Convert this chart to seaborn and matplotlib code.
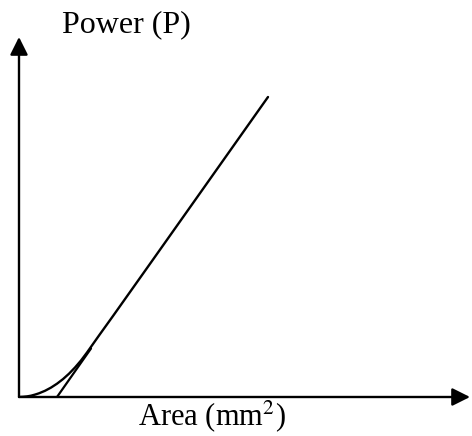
import matplotlib
matplotlib.use("Agg")
import matplotlib.pyplot as plt
import seaborn as sns
import pandas as pd

# Curve (area, power) in arbitrary units
area = [0, 4, 8, 12, 16, 20, 26, 32, 38, 44, 50, 56, 62, 68, 74, 80, 94, 133, 179, 249]
power = [0, 0.2, 0.6, 1.3, 2.4, 3.7, 6.2, 9.4, 13.3, 17.9, 23.3, 29.5, 36.5, 44.5, 53, 61.5, 81, 136, 201, 300]
# Tangent line from x-intercept to where it meets the curve
tan_area = [38, 72]
tan_power = [0, 48.5]
x_max = 451
y_max = 360
x_label = "Area (mm$^2$)"
y_label = "Power (P)"

sns.set_style("white")
plt.rcParams["font.family"] = ["Liberation Serif", "DejaVu Serif"]
plt.rcParams["mathtext.fontset"] = "stix"

W, H = 472, 436
fig = plt.figure(figsize=(W / 100, H / 100), dpi=100)
ax = fig.add_axes([19 / W, (H - 397) / H, (470 - 19) / W, (397 - 37) / H])

df = pd.DataFrame({"area": area, "power": power})
dft = pd.DataFrame({"area": tan_area, "power": tan_power})
sns.lineplot(data=df, x="area", y="power", ax=ax, color="black", lw=1.7, sort=False)
sns.lineplot(data=dft, x="area", y="power", ax=ax, color="black", lw=1.6, sort=False)

ax.set_xlim(0, x_max)
ax.set_ylim(0, y_max)
ax.set_xticks([])
ax.set_yticks([])
ax.set_xlabel("")
ax.set_ylabel("")
for s in ax.spines.values():
    s.set_visible(False)

style = "-|>,head_length=0.8,head_width=0.4"
for tip in [(x_max, 0), (0, y_max)]:
    ax.annotate("", xy=tip, xytext=(0, 0),
                arrowprops=dict(arrowstyle=style, mutation_scale=13.5, lw=1.7,
                                color="black", shrinkA=0, shrinkB=0),
                annotation_clip=False)

fig.text(62 / W, 1 - 32 / H, y_label, fontsize=23, ha="left", va="baseline", color="black")
fig.text(138 / W, 1 - 425 / H, x_label, fontsize=22, ha="left", va="baseline", color="black")

fig.savefig("out.png", dpi=100)
